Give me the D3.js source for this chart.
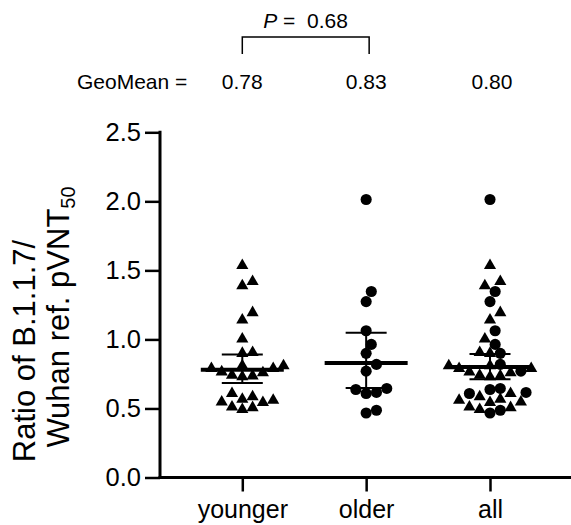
<!DOCTYPE html>
<html><head><meta charset="utf-8">
<script src="https://cdn.jsdelivr.net/npm/d3@7"></script>
<style>body{margin:0;background:#fff}svg{display:block;font-family:"Liberation Sans",Arial,sans-serif}</style>
</head><body>
<svg id="c" width="571" height="525"></svg>
<script>
const categories = ["younger", "older", "all"];
const youngerValues = [1.536,1.388,1.419,1.141,1.194,1.003,0.906,0.899,0.765,0.790,0.809,0.809,0.790,0.729,0.758,0.741,0.736,0.560,0.608,0.567,0.506,0.511,0.547,0.584,0.543,0.492];
const olderValues = [2.013,1.347,1.274,1.063,0.964,0.899,0.819,0.770,0.637,0.608,0.616,0.645,0.467,0.487];
const geoMeans = [0.78, 0.83, 0.80];
const geoMeanLabels = ["0.78", "0.83", "0.80"];
const ciLow = [0.685, 0.649, 0.712];
const ciHigh = [0.890, 1.049, 0.894];
const yTicks = [0, 0.5, 1.0, 1.5, 2.0, 2.5];
const pLabel = "0.68";

const svg = d3.select("#c");
const x = d3.scalePoint().domain(categories).range([242.3, 490]);
const y = d3.scaleLinear().domain([0, 2.5]).range([477.5, 132.3]);

const groups = [
  youngerValues.map(v => ({v, s: "tri"})),
  olderValues.map(v => ({v, s: "circ"})),
  youngerValues.map(v => ({v, s: "tri"})).concat(olderValues.map(v => ({v, s: "circ"})))
];

function swarm(points, cx, step, minD) {
  const order = points.map((p, i) => i).sort((a, b) => points[a].v - points[b].v);
  const placed = [];
  order.forEach(i => {
    const py = y(points[i].v);
    for (let k = 0; k < 60; k++) {
      const cands = k === 0 ? [0] : [k, -k];
      let ok = null;
      for (const c of cands) {
        const px = cx + c * step;
        if (placed.every(q => (q.x - px) ** 2 + (q.y - py) ** 2 >= minD * minD)) { ok = px; break; }
      }
      if (ok !== null) { placed.push({x: ok, y: py, s: points[i].s}); break; }
    }
  });
  return placed;
}

const tri = d3.symbol().type(d3.symbolTriangle).size(64);
const circ = d3.symbol().type(d3.symbolCircle).size(97);

groups.forEach((pts, gi) => {
  const cx = x(categories[gi]);
  const placed = swarm(pts, cx, 5.15, 10.3);
  svg.append("g").selectAll("path").data(placed).join("path")
    .attr("transform", d => `translate(${d.x},${d.y})`)
    .attr("d", d => d.s === "tri" ? tri() : circ())
    .attr("fill", "#000");
  const g = svg.append("g").attr("stroke", "#000");
  g.append("line").attr("x1", cx).attr("x2", cx).attr("y1", y(ciLow[gi])).attr("y2", y(ciHigh[gi])).attr("stroke-width", 2);
  [ciLow[gi], ciHigh[gi]].forEach(v => g.append("line").attr("x1", cx - 20.5).attr("x2", cx + 20.5).attr("y1", y(v)).attr("y2", y(v)).attr("stroke-width", 2));
  g.append("line").attr("x1", cx - 41.5).attr("x2", cx + 41.5).attr("y1", y(geoMeans[gi])).attr("y2", y(geoMeans[gi])).attr("stroke-width", 4);
});

const yAxis = svg.append("g").attr("transform", "translate(160,0)")
  .call(d3.axisLeft(y).tickValues(yTicks).tickFormat(d3.format(".1f")).tickSize(15).tickPadding(4));
yAxis.select(".domain").remove();
yAxis.selectAll(".tick line").attr("stroke-width", 2.5);
yAxis.selectAll("text").attr("font-size", 25.5).attr("fill", "#000").attr("font-family", "Liberation Sans, Arial, sans-serif");
svg.append("line").attr("x1", 160).attr("x2", 160).attr("y1", y(2.5) - 1.5).attr("y2", y(0) + 1.5).attr("stroke", "#000").attr("stroke-width", 3);

const xAxis = svg.append("g").attr("transform", `translate(0,${y(0)})`)
  .call(d3.axisBottom(x).tickSize(14).tickPadding(9));
xAxis.select(".domain").remove();
xAxis.selectAll(".tick line").attr("stroke-width", 2.5);
xAxis.selectAll("text").attr("font-size", 25).attr("fill", "#000").attr("font-family", "Liberation Sans, Arial, sans-serif");
svg.append("line").attr("x1", 158.5).attr("x2", 571).attr("y1", y(0)).attr("y2", y(0)).attr("stroke", "#000").attr("stroke-width", 3);

const t1 = svg.append("text").attr("transform", "translate(35,351) rotate(-90)").attr("text-anchor", "middle").attr("font-size", 31).text("Ratio of B.1.1.7/");
const t2 = svg.append("text").attr("transform", "translate(69,317) rotate(-90)").attr("text-anchor", "middle").attr("font-size", 31);
t2.append("tspan").text("Wuhan ref. pVNT");
t2.append("tspan").attr("font-size", 20).attr("dy", 6).text("50");

const ptxt = svg.append("text").attr("x", 305.5).attr("y", 28).attr("text-anchor", "middle").attr("font-size", 21);
ptxt.append("tspan").attr("font-style", "italic").text("P");
ptxt.append("tspan").attr("xml:space", "preserve").text(" =  " + pLabel);
svg.append("path").attr("d", `M${x(categories[0])},54V37H${x(categories[1]) + 3}V54`).attr("fill", "none").attr("stroke", "#000").attr("stroke-width", 1.5);
svg.append("text").attr("x", 77).attr("y", 89).attr("font-size", 21).text("GeoMean =");
svg.append("g").selectAll("text").data(geoMeanLabels).join("text")
  .attr("x", (d, i) => x(categories[i]) + (i === 2 ? 2 : 0)).attr("y", 89).attr("text-anchor", "middle").attr("font-size", 21).text(d => d);
</script>
</body></html>
